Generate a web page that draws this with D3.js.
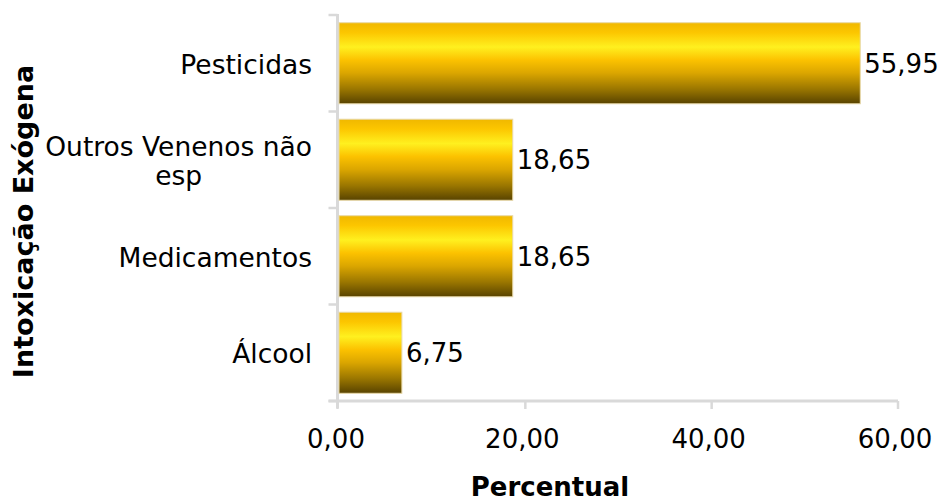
<!DOCTYPE html>
<html>
<head>
<meta charset="utf-8">
<script src="https://cdn.jsdelivr.net/npm/d3@7/dist/d3.min.js"></script>
<style>
  html, body { margin: 0; padding: 0; background: #fff; }
  svg { display: block; }
  text { font-family: "DejaVu Sans", Verdana, sans-serif; fill: #000; }
</style>
</head>
<body>
<svg id="chart" width="944" height="498"></svg>
<script>
// Intoxicação exógena por tipo de agente (%)
const categories = ["Pesticidas", "Outros Venenos não esp", "Medicamentos", "Álcool"];
const categoryLines = [["Pesticidas"], ["Outros Venenos não", "esp"], ["Medicamentos"], ["Álcool"]];
const values = [55.95, 18.65, 18.65, 6.75];
const xTicks = [0, 20, 40, 60];
const xTitle = "Percentual";
const yTitle = "Intoxicação Exógena";

const fmt = v => v.toFixed(2).replace(".", ",");

const svg = d3.select("#chart");
const plotL = 339, plotR = 898, plotT = 15, plotB = 401;

const x = d3.scaleLinear().domain([0, 60]).range([plotL, plotR]);
const y = d3.scaleBand().domain(categories).range([plotT, plotB]).paddingInner(0.16).paddingOuter(0.08);

// Golden vertical gradient for the bars
const defs = svg.append("defs");
const grad = defs.append("linearGradient").attr("id", "gold")
  .attr("x1", 0).attr("y1", 0).attr("x2", 0).attr("y2", 1);
[["0%", "#f0b800"], ["12%", "#fcc600"], ["30%", "#fff01f"], ["46%", "#fcc200"],
 ["62%", "#dba600"], ["82%", "#9a7600"], ["100%", "#584300"]]
  .forEach(([o, c]) => grad.append("stop").attr("offset", o).attr("stop-color", c));

// Axes (light grey)
const axisColor = "#d9d9d9";
const axisX = plotL - 1.5;
const g = svg.append("g");
const yBounds = d3.range(categories.length + 1).map(i => plotT + i * (plotB - plotT) / categories.length);
g.append("line").attr("x1", axisX).attr("x2", axisX).attr("y1", plotT - 1).attr("y2", plotB + 7)
  .attr("stroke", axisColor).attr("stroke-width", 3);
yBounds.forEach(v => g.append("line").attr("x1", axisX - 9).attr("x2", axisX).attr("y1", v).attr("y2", v)
  .attr("stroke", axisColor).attr("stroke-width", 2.5));
g.append("line").attr("x1", axisX - 9).attr("x2", plotR).attr("y1", plotB).attr("y2", plotB)
  .attr("stroke", axisColor).attr("stroke-width", 3);
xTicks.forEach(t => g.append("line").attr("x1", x(t) - (t === 0 ? 1.5 : 0)).attr("x2", x(t) - (t === 0 ? 1.5 : 0))
  .attr("y1", plotB).attr("y2", plotB + 8)
  .attr("stroke", axisColor).attr("stroke-width", 2.5));

// Tick labels
svg.append("g").selectAll("text").data(xTicks).join("text")
  .attr("x", d => x(d) - 3).attr("y", 448)
  .attr("text-anchor", "middle").style("font-size", "26px")
  .text(d => fmt(d));

// Bars
svg.append("g").selectAll("rect").data(values).join("rect")
  .attr("x", x(0)).attr("y", (d, i) => y(categories[i]))
  .attr("width", d => x(d) - x(0)).attr("height", y.bandwidth())
  .attr("fill", "url(#gold)").attr("stroke", "#e8d9a8").attr("stroke-width", 1);

// Value labels
svg.append("g").selectAll("text").data(values).join("text")
  .attr("x", d => x(d) + 4).attr("y", (d, i) => y(categories[i]) + y.bandwidth() / 2 + 9.5)
  .style("font-size", "26px")
  .text(d => fmt(d));

// Category labels (multi-line labels centred on their widest line, block right-aligned)
const catG = svg.append("g");
categoryLines.forEach((lines, i) => {
  const cy = y(categories[i]) + y.bandwidth() / 2;
  const lh = 29;
  const t = catG.append("text").style("font-size", "26.5px").attr("text-anchor", "middle");
  const spans = lines.map(l => t.append("tspan").text(l));
  const w = d3.max(spans, s => s.node().getComputedTextLength());
  const cx = 312 - w / 2;
  spans.forEach((s, k) => s.attr("x", cx).attr("y", cy + 10.5 + (k - (lines.length - 1) / 2) * lh));
});

// Axis titles
svg.append("text").attr("x", 550).attr("y", 496).attr("text-anchor", "middle")
  .style("font-size", "26px").style("font-weight", "bold").text(xTitle);
svg.append("text").attr("transform", "translate(33,221.5) rotate(-90)").attr("text-anchor", "middle")
  .style("font-size", "27px").style("font-weight", "bold").text(yTitle);
</script>
</body>
</html>
